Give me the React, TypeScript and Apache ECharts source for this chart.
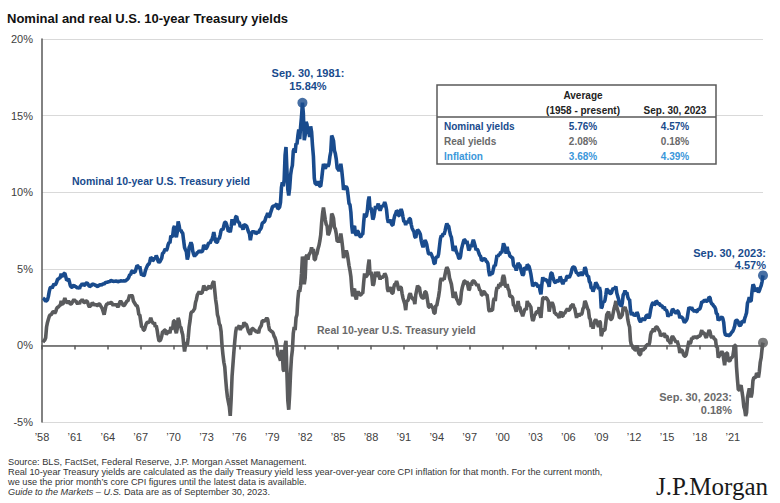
import React, { useEffect, useRef } from "react";
import * as echarts from "echarts";

// ---- data ----
const START_YEAR = 1958;
const X_MAX = 65.75; // years after Jan 1958 (Sep 30, 2023)
const Y_MIN = -5;
const Y_MAX = 20;
const Y_STEP = 5;
const X_STEP = 3;

// monthly nominal 10-year Treasury yield (%), Jan 1958 .. Sep 2023
const nominal = [
  3.09, 3.05, 2.98, 2.88, 2.92, 2.97, 3.2, 3.54, 3.76, 3.8, 3.74, 3.86,
  4.02, 3.96, 3.99, 4.12, 4.31, 4.34, 4.4, 4.43, 4.68, 4.53, 4.53, 4.69,
  4.72, 4.49, 4.25, 4.28, 4.35, 4.15, 3.9, 3.8, 3.8, 3.89, 3.93, 3.84,
  3.84, 3.78, 3.74, 3.78, 3.71, 3.88, 3.92, 4.04, 3.98, 3.92, 3.94, 4.06,
  4.08, 4.04, 3.93, 3.84, 3.87, 3.91, 4.01, 3.98, 3.98, 3.93, 3.92, 3.86,
  3.83, 3.92, 3.93, 3.97, 3.93, 3.99, 4.02, 4.0, 4.08, 4.11, 4.12, 4.13,
  4.17, 4.15, 4.22, 4.23, 4.2, 4.17, 4.19, 4.19, 4.2, 4.19, 4.15, 4.18,
  4.19, 4.21, 4.21, 4.2, 4.21, 4.21, 4.2, 4.25, 4.29, 4.35, 4.45, 4.62,
  4.61, 4.83, 4.87, 4.75, 4.78, 4.81, 5.02, 5.22, 5.18, 5.01, 5.16, 4.84,
  4.58, 4.63, 4.54, 4.59, 4.85, 5.02, 5.16, 5.28, 5.3, 5.48, 5.75, 5.7,
  5.53, 5.56, 5.74, 5.64, 5.87, 5.72, 5.5, 5.42, 5.46, 5.58, 5.7, 6.03,
  6.04, 6.19, 6.3, 6.17, 6.32, 6.57, 6.72, 6.69, 7.16, 7.1, 7.14, 7.65,
  7.79, 7.24, 7.07, 7.39, 8.1, 7.84, 7.46, 7.53, 7.39, 7.33, 6.84, 6.39,
  6.24, 6.11, 5.6, 5.83, 6.39, 6.52, 6.73, 6.58, 6.14, 5.93, 5.81, 5.93,
  5.95, 6.08, 6.07, 6.19, 6.13, 6.11, 6.11, 6.21, 6.55, 6.48, 6.28, 6.36,
  6.46, 6.64, 6.71, 6.67, 6.85, 6.9, 7.13, 7.4, 7.09, 6.79, 6.73, 6.74,
  6.99, 6.96, 7.21, 7.51, 7.58, 7.54, 7.81, 8.04, 8.04, 7.9, 7.68, 7.43,
  7.5, 7.39, 7.73, 8.23, 8.06, 7.86, 8.06, 8.4, 8.43, 8.14, 8.05, 8.0,
  7.74, 7.79, 7.73, 7.56, 7.9, 7.86, 7.83, 7.77, 7.59, 7.41, 7.29, 6.87,
  7.21, 7.39, 7.46, 7.37, 7.46, 7.28, 7.33, 7.4, 7.34, 7.52, 7.58, 7.69,
  7.96, 8.03, 8.04, 8.15, 8.35, 8.46, 8.64, 8.41, 8.42, 8.64, 8.81, 9.01,
  9.1, 9.1, 9.12, 9.18, 9.25, 8.91, 8.95, 9.03, 9.33, 10.3, 10.65, 10.39,
  10.8, 12.41, 12.95, 11.47, 10.18, 9.78, 10.25, 11.1, 11.51, 11.75, 12.68, 12.84,
  12.57, 13.19, 13.12, 13.68, 14.1, 13.47, 14.28, 14.94, 15.84, 15.15, 13.39, 13.72,
  14.59, 14.43, 13.86, 13.87, 13.62, 14.3, 13.95, 13.06, 12.34, 10.91, 10.55, 10.54,
  10.46, 10.72, 10.51, 10.4, 10.38, 10.85, 11.38, 11.85, 11.65, 11.54, 11.69, 11.83,
  11.67, 11.84, 12.32, 12.63, 13.7, 13.56, 13.36, 12.72, 12.52, 12.16, 11.57, 11.5,
  11.38, 11.51, 11.86, 11.43, 10.85, 10.16, 10.31, 10.33, 10.37, 10.24, 9.78, 9.26,
  9.19, 8.7, 7.78, 7.3, 7.71, 7.8, 7.3, 7.17, 7.45, 7.43, 7.25, 7.11,
  7.08, 7.25, 7.25, 8.02, 8.61, 8.4, 8.45, 8.76, 9.42, 9.72, 8.86, 8.99,
  8.67, 8.21, 8.37, 8.72, 9.09, 8.92, 9.06, 9.26, 8.98, 8.8, 8.96, 9.11,
  9.09, 9.17, 9.36, 9.18, 8.86, 8.28, 8.02, 8.11, 8.19, 8.01, 7.87, 7.84,
  8.21, 8.47, 8.59, 8.79, 8.76, 8.48, 8.47, 8.75, 8.89, 8.72, 8.39, 8.08,
  8.09, 7.85, 8.11, 8.04, 8.07, 8.28, 8.27, 7.9, 7.65, 7.53, 7.42, 7.09,
  7.03, 7.34, 7.54, 7.48, 7.39, 7.26, 6.84, 6.59, 6.42, 6.59, 6.87, 6.77,
  6.6, 6.26, 5.98, 5.97, 6.04, 5.96, 5.81, 5.68, 5.36, 5.33, 5.72, 5.77,
  5.75, 5.97, 6.48, 6.97, 7.18, 7.1, 7.3, 7.24, 7.46, 7.74, 7.96, 7.81,
  7.78, 7.47, 7.2, 7.06, 6.63, 6.17, 6.28, 6.49, 6.2, 6.04, 5.93, 5.71,
  5.65, 5.81, 6.27, 6.51, 6.74, 6.91, 6.87, 6.64, 6.83, 6.53, 6.2, 6.3,
  6.58, 6.42, 6.69, 6.89, 6.71, 6.49, 6.22, 6.3, 6.21, 6.03, 5.88, 5.81,
  5.54, 5.57, 5.65, 5.64, 5.65, 5.5, 5.46, 5.34, 4.81, 4.53, 4.83, 4.65,
  4.72, 5.0, 5.23, 5.18, 5.54, 5.9, 5.79, 5.94, 5.92, 6.11, 6.03, 6.28,
  6.66, 6.52, 6.26, 5.99, 6.44, 6.1, 6.05, 5.83, 5.8, 5.74, 5.72, 5.24,
  5.16, 5.1, 4.89, 5.14, 5.39, 5.28, 5.24, 4.97, 4.73, 4.57, 4.65, 5.09,
  5.04, 4.91, 5.28, 5.21, 5.16, 4.93, 4.65, 4.26, 3.87, 3.94, 4.05, 4.03,
  4.05, 3.9, 3.81, 3.96, 3.57, 3.33, 3.98, 4.45, 4.27, 4.29, 4.3, 4.27,
  4.15, 4.08, 3.83, 4.35, 4.72, 4.73, 4.5, 4.28, 4.13, 4.1, 4.19, 4.23,
  4.22, 4.17, 4.5, 4.34, 4.14, 4.0, 4.18, 4.26, 4.2, 4.46, 4.54, 4.47,
  4.42, 4.57, 4.72, 4.99, 5.11, 5.11, 5.09, 4.88, 4.72, 4.73, 4.6, 4.56,
  4.76, 4.72, 4.56, 4.69, 4.75, 5.1, 5.0, 4.67, 4.52, 4.53, 4.15, 4.1,
  3.74, 3.74, 3.51, 3.68, 3.88, 4.1, 4.01, 3.89, 3.69, 3.81, 3.53, 2.42,
  2.52, 2.87, 2.82, 2.93, 3.29, 3.72, 3.56, 3.59, 3.4, 3.39, 3.4, 3.59,
  3.73, 3.69, 3.73, 3.85, 3.42, 3.2, 3.01, 2.7, 2.65, 2.54, 2.76, 3.29,
  3.39, 3.58, 3.41, 3.46, 3.17, 3.0, 3.0, 2.3, 1.98, 2.15, 2.01, 1.98,
  1.97, 1.97, 2.17, 2.05, 1.8, 1.62, 1.53, 1.68, 1.72, 1.75, 1.65, 1.72,
  1.91, 1.98, 1.96, 1.76, 1.93, 2.3, 2.58, 2.74, 2.81, 2.62, 2.72, 2.9,
  2.86, 2.71, 2.72, 2.71, 2.56, 2.6, 2.54, 2.42, 2.53, 2.3, 2.33, 2.21,
  1.88, 1.98, 2.04, 1.94, 2.2, 2.36, 2.32, 2.17, 2.17, 2.07, 2.26, 2.24,
  2.09, 1.78, 1.89, 1.81, 1.81, 1.64, 1.5, 1.56, 1.63, 1.76, 2.14, 2.49,
  2.43, 2.42, 2.48, 2.3, 2.3, 2.19, 2.32, 2.21, 2.2, 2.36, 2.35, 2.4,
  2.58, 2.86, 2.84, 2.87, 2.98, 2.91, 2.89, 2.89, 3.0, 3.15, 3.12, 2.83,
  2.71, 2.68, 2.57, 2.53, 2.4, 2.07, 2.06, 1.63, 1.7, 1.71, 1.81, 1.86,
  1.76, 1.5, 0.87, 0.66, 0.67, 0.73, 0.62, 0.65, 0.68, 0.79, 0.87, 0.93,
  1.08, 1.26, 1.61, 1.64, 1.62, 1.52, 1.32, 1.28, 1.37, 1.58, 1.56, 1.47,
  1.76, 1.93, 2.13, 2.75, 2.9, 3.14, 2.9, 2.9, 3.52, 3.98, 3.89, 3.62,
  3.53, 3.75, 3.66, 3.46, 3.57, 3.75, 3.9, 4.17, 4.57,
];

// monthly real 10-year Treasury yield (%), Jan 1958 .. Sep 2023
const real = [
  0.2, 0.3, 0.35, 0.5, 1.2, 1.5, 1.7, 1.9, 2.0, 2.0, 2.1, 2.2,
  2.2, 2.1, 2.2, 2.4, 2.5, 2.5, 2.6, 2.6, 2.9, 2.7, 2.7, 2.9,
  3.1, 2.9, 2.8, 2.8, 2.9, 2.8, 2.7, 2.7, 2.8, 2.9, 3.0, 2.9,
  2.9, 2.8, 2.7, 2.8, 2.7, 2.9, 2.9, 3.0, 2.9, 2.8, 2.8, 2.9,
  2.9, 2.8, 2.6, 2.5, 2.6, 2.6, 2.8, 2.7, 2.7, 2.6, 2.7, 2.6,
  2.6, 2.7, 2.7, 2.6, 2.5, 2.4, 2.2, 2.0, 2.3, 2.6, 2.7, 2.7,
  2.8, 2.7, 2.8, 2.8, 2.7, 2.6, 2.7, 2.6, 2.7, 2.6, 2.5, 2.6,
  2.8, 2.9, 2.8, 2.7, 2.6, 2.6, 2.7, 2.8, 2.9, 2.9, 3.1, 3.3,
  3.2, 3.3, 3.2, 2.9, 2.8, 2.7, 2.6, 2.6, 2.4, 2.0, 2.0, 1.6,
  1.2, 1.2, 1.0, 1.0, 1.2, 1.4, 1.5, 1.5, 1.5, 1.6, 1.8, 1.6,
  1.5, 1.4, 1.5, 1.2, 1.3, 1.0, 0.6, 0.3, 0.3, 0.4, 0.6, 0.9,
  0.9, 1.0, 1.0, 0.7, 0.8, 0.9, 0.9, 0.8, 1.2, 1.1, 1.1, 1.6,
  1.6, 1.0, 0.8, 1.1, 1.8, 1.6, 1.2, 1.2, 0.9, 0.7, 0.1, -0.4,
  0.0, 0.2, 0.0, 0.5, 1.2, 1.6, 2.1, 2.2, 2.2, 2.3, 2.4, 2.8,
  3.0, 3.3, 3.4, 3.5, 3.4, 3.4, 3.4, 3.6, 3.9, 3.8, 3.6, 3.7,
  3.7, 3.8, 3.9, 3.7, 3.8, 3.9, 4.1, 4.2, 3.6, 3.0, 2.6, 2.0,
  1.8, 1.4, 1.3, 0.9, 0.0, -0.6, -1.1, -1.4, -2.2, -2.9, -3.4, -3.7,
  -4.0, -4.6, -3.5, -2.0, -1.2, -0.4, 0.3, 0.9, 1.2, 1.1, 1.2, 1.3,
  1.0, 1.2, 1.2, 1.2, 1.5, 1.4, 1.4, 1.3, 1.1, 0.9, 0.8, 0.7,
  1.0, 1.1, 1.1, 1.0, 1.0, 0.9, 0.9, 0.9, 0.8, 1.1, 1.2, 1.3,
  1.6, 1.6, 1.6, 1.6, 1.7, 1.8, 1.7, 1.3, 1.0, 1.0, 0.9, 0.9,
  0.8, 0.6, 0.5, 0.3, 0.0, -0.6, -0.7, -0.8, -1.0, -0.3, -0.6, -1.6,
  -1.7, 0.0, 0.3, -1.8, -3.6, -4.2, -3.2, -1.8, -0.8, -0.3, 0.8, 1.2,
  1.0, 1.8, 2.0, 3.0, 3.6, 3.5, 3.9, 4.7, 5.8, 5.4, 4.0, 4.4,
  5.8, 5.9, 5.6, 5.9, 6.0, 6.1, 6.4, 6.1, 6.3, 5.6, 5.6, 5.9,
  6.0, 6.3, 6.5, 6.8, 7.2, 8.0, 8.6, 9.0, 8.6, 8.2, 7.9, 7.8,
  7.2, 7.3, 7.5, 7.8, 8.6, 8.5, 8.3, 7.7, 7.6, 7.3, 6.8, 6.8,
  6.8, 6.8, 7.3, 6.9, 6.4, 5.7, 5.9, 6.0, 6.2, 6.0, 5.6, 5.2,
  4.9, 4.5, 3.7, 3.2, 3.6, 3.7, 3.2, 3.0, 3.4, 3.5, 3.4, 3.3,
  3.3, 3.4, 3.4, 4.1, 4.7, 4.5, 4.5, 4.6, 5.2, 5.6, 4.6, 4.8,
  4.5, 3.9, 4.0, 4.4, 4.8, 4.5, 4.6, 4.8, 4.5, 4.3, 4.5, 4.4,
  4.5, 4.5, 4.7, 4.6, 4.4, 3.7, 3.5, 3.7, 3.8, 3.6, 3.4, 3.4,
  3.8, 4.0, 4.0, 4.2, 4.0, 3.7, 3.6, 3.8, 3.8, 3.4, 3.1, 2.9,
  2.7, 2.3, 2.9, 2.9, 3.0, 3.3, 3.4, 3.2, 3.1, 3.0, 3.0, 2.7,
  3.3, 3.6, 3.9, 3.8, 3.8, 3.4, 3.2, 3.1, 3.1, 3.1, 3.5, 3.5,
  3.3, 2.9, 2.5, 2.5, 2.7, 2.6, 2.5, 2.4, 2.1, 2.1, 2.6, 2.6,
  2.9, 3.2, 3.6, 4.2, 4.4, 4.2, 4.4, 4.3, 4.6, 4.9, 5.1, 5.0,
  4.8, 4.4, 4.2, 4.0, 3.6, 3.1, 3.3, 3.5, 3.2, 3.0, 2.9, 2.7,
  2.7, 2.9, 3.5, 3.8, 4.0, 4.2, 4.2, 4.0, 4.2, 3.9, 3.6, 3.7,
  4.1, 3.9, 4.2, 4.2, 4.2, 4.1, 4.0, 3.9, 4.0, 3.8, 3.6, 3.6,
  3.3, 3.3, 3.5, 3.5, 3.4, 3.3, 3.3, 2.9, 2.3, 2.2, 2.4, 2.3,
  2.3, 2.9, 3.1, 2.9, 3.5, 3.8, 3.7, 4.0, 3.8, 4.1, 3.9, 4.4,
  4.6, 4.4, 3.9, 3.8, 4.0, 3.7, 3.6, 3.2, 3.2, 3.2, 3.1, 2.6,
  2.6, 2.4, 2.2, 2.5, 2.9, 2.5, 2.5, 2.2, 2.1, 1.9, 2.1, 2.3,
  2.4, 2.3, 2.9, 2.7, 2.7, 2.6, 2.5, 1.9, 1.6, 1.7, 2.0, 2.0,
  2.2, 2.2, 2.1, 2.5, 2.0, 1.8, 2.5, 3.1, 3.1, 3.0, 3.1, 3.1,
  3.0, 2.9, 2.2, 2.5, 2.7, 2.8, 2.7, 2.5, 2.1, 2.1, 2.0, 2.0,
  1.9, 1.8, 2.1, 2.2, 1.9, 1.9, 2.1, 2.1, 2.2, 2.3, 2.4, 2.3,
  2.3, 2.4, 2.6, 2.6, 2.7, 2.5, 2.4, 2.1, 1.8, 2.0, 2.0, 1.9,
  2.1, 2.0, 2.1, 2.4, 2.5, 2.9, 2.8, 2.6, 2.4, 2.3, 1.8, 1.7,
  1.2, 1.4, 1.1, 1.4, 1.6, 1.7, 1.5, 1.4, 1.2, 1.6, 1.5, 0.6,
  0.8, 1.1, 1.0, 1.0, 1.5, 2.0, 2.1, 2.2, 1.9, 1.7, 1.7, 1.8,
  2.1, 2.4, 2.6, 2.9, 2.5, 2.3, 2.1, 1.8, 1.8, 1.9, 2.0, 2.5,
  2.4, 2.5, 2.3, 2.2, 1.7, 1.4, 1.2, 0.3, 0.0, 0.0, -0.2, -0.2,
  -0.3, -0.3, 0.0, -0.2, -0.5, -0.6, -0.6, -0.2, -0.3, -0.3, -0.2, -0.2,
  0.0, 0.0, 0.1, 0.0, 0.2, 0.7, 0.9, 0.9, 1.1, 0.9, 1.1, 1.2,
  1.2, 1.1, 1.0, 0.9, 0.6, 0.7, 0.7, 0.7, 0.8, 0.5, 0.6, 0.6,
  0.3, 0.3, 0.2, 0.1, 0.5, 0.6, 0.5, 0.4, 0.3, 0.2, 0.3, 0.1,
  -0.1, -0.5, -0.3, -0.3, -0.4, -0.6, -0.7, -0.7, -0.6, -0.3, 0.0, 0.3,
  0.1, 0.2, 0.5, 0.4, 0.6, 0.5, 0.6, 0.5, 0.5, 0.6, 0.6, 0.6,
  0.8, 1.0, 0.7, 0.8, 0.8, 0.6, 0.5, 0.7, 0.8, 1.0, 0.9, 0.6,
  0.5, 0.6, 0.5, 0.4, 0.4, -0.1, -0.1, -0.8, -0.7, -0.6, -0.5, -0.4,
  -0.5, -0.9, -1.3, -0.8, -0.5, -0.5, -1.0, -1.0, -1.0, -0.8, -0.8, -0.7,
  -0.3, 0.0, 0.0, -1.4, -2.2, -2.9, -2.9, -2.7, -2.6, -3.0, -3.4, -4.0,
  -4.2, -4.6, -4.4, -3.4, -3.1, -2.8, -3.0, -3.4, -3.1, -2.3, -2.1, -2.1,
  -2.1, -1.8, -1.9, -2.1, -1.7, -1.1, -0.8, -0.2, 0.18,
];

const tableRowLabels = ["Nominal yields", "Real yields", "Inflation"];
const tableAverage = ["5.76%", "2.08%", "3.68%"];
const tableLatest = ["4.57%", "0.18%", "4.39%"];

const TITLE = "Nominal and real U.S. 10-year Treasury yields";
const NOMINAL_LABEL = "Nominal 10-year U.S. Treasury yield";
const REAL_LABEL = "Real 10-year U.S. Treasury yield";
const FOOTNOTES = [
  "Source: BLS, FactSet, Federal Reserve, J.P. Morgan Asset Management.",
  "Real 10-year Treasury yields are calculated as the daily Treasury yield less year-over-year core CPI inflation for that month. For the current month,",
  "we use the prior month\u2019s core CPI figures until the latest data is available.",
];

// ---- styles ----
const FONT = "'Liberation Sans', Arial, Helvetica, sans-serif";
const NAVY = "#194b8d";
const GRAY = "#5a5b5d";
const GRAY_TEXT = "#6a6a6a";
const LIGHT_BLUE = "#3b97da";
const AXIS = "#595959";

const xOf = (i: number) => (i + 1) / 12;

function text(x: number, y: number, t: string, style: any = {}) {
  return {
    type: "text",
    x,
    y,
    silent: true,
    z: 100,
    style: {
      text: t,
      fontFamily: FONT,
      fontSize: 11,
      fill: "#333",
      align: "left",
      verticalAlign: "middle",
      ...style,
    },
  };
}

export default function App() {
  const ref = useRef<HTMLDivElement>(null);

  useEffect(() => {
    document.body.style.margin = "0";
    const chart = echarts.init(ref.current!, undefined, { renderer: "svg" });

    const nominalData = nominal.map((v, i) => [xOf(i), v]);
    const realData = real.map((v, i) => [xOf(i), v]);
    const peakIdx = nominal.indexOf(Math.max(...nominal));
    const lastN = nominal.length - 1;
    const lastR = real.length - 1;

    const rowColors = [NAVY, GRAY_TEXT, LIGHT_BLUE];
    const graphic: any[] = [
      text(7, 18, TITLE, { fontSize: 13, fontWeight: "bold", fill: "#111" }),
      text(72, 181, NOMINAL_LABEL, { fontSize: 10.5, fontWeight: "bold", fill: NAVY }),
      text(317, 330, REAL_LABEL, { fontSize: 10.5, fontWeight: "bold", fill: GRAY_TEXT }),
      text(308, 73, "Sep. 30, 1981:", { fontWeight: "bold", fill: NAVY, align: "center" }),
      text(308, 86, "15.84%", { fontWeight: "bold", fill: NAVY, align: "center" }),
      text(766, 253, "Sep. 30, 2023:", { fontWeight: "bold", fill: NAVY, align: "right" }),
      text(766, 265, "4.57%", { fontWeight: "bold", fill: NAVY, align: "right" }),
      text(732, 397, "Sep. 30, 2023:", { fontWeight: "bold", fill: GRAY_TEXT, align: "right" }),
      text(732, 410, "0.18%", { fontWeight: "bold", fill: GRAY_TEXT, align: "right" }),
      // table
      {
        type: "rect",
        silent: true,
        z: 90,
        shape: { x: 437, y: 85, width: 279, height: 79 },
        style: { fill: "#fff", stroke: AXIS, lineWidth: 1.5 },
      },
      {
        type: "line",
        silent: true,
        z: 91,
        shape: { x1: 437, y1: 117, x2: 716, y2: 117 },
        style: { stroke: AXIS, lineWidth: 1.5 },
      },
      text(583, 95, "Average", { fontSize: 10, fontWeight: "bold", fill: "#222", align: "center" }),
      text(583, 110, "(1958 - present)", { fontSize: 10, fontWeight: "bold", fill: "#222", align: "center" }),
      text(675, 110, "Sep. 30, 2023", { fontSize: 10, fontWeight: "bold", fill: "#222", align: "center" }),
      ...tableRowLabels.flatMap((lab, r) => [
        text(444, 126 + r * 15, lab, { fontSize: 10, fontWeight: "bold", fill: rowColors[r] }),
        text(583, 126 + r * 15, tableAverage[r], { fontSize: 10, fontWeight: "bold", fill: rowColors[r], align: "center" }),
        text(675, 126 + r * 15, tableLatest[r], { fontSize: 10, fontWeight: "bold", fill: rowColors[r], align: "center" }),
      ]),
      // footnotes
      ...FOOTNOTES.map((f, i) => text(8, 462 + i * 10, f, { fontSize: 9.2, fill: "#333" })),
      text(8, 492, "{i|Guide to the Markets \u2013 U.S.} Data are as of September 30, 2023.", {
        fontSize: 9.2,
        fill: "#333",
        rich: { i: { fontStyle: "italic", fontSize: 9.2, fontFamily: FONT, fill: "#333" } },
      }),
      text(768, 486, "J.P.Morgan", {
        fontFamily: "'Liberation Serif', 'DejaVu Serif', serif",
        fontSize: 25,
        fill: "#1a1a1a",
        align: "right",
      }),
    ];

    const option: any = {
      animation: false,
      grid: { left: 42, right: 17, top: 39, bottom: 81, containLabel: false },
      xAxis: [
        {
          type: "value",
          min: 0,
          max: X_MAX,
          interval: X_STEP,
          position: "bottom",
          axisLine: { show: false, onZero: false },
          axisTick: { show: false },
          splitLine: { show: false },
          axisLabel: {
            margin: 9,
            color: "#404040",
            fontSize: 11,
            fontFamily: FONT,
            formatter: (v: number) =>
              v % X_STEP === 0 ? "\u2019" + String(START_YEAR + v).slice(2) : "",
          },
        },
        {
          type: "value",
          min: 0,
          max: X_MAX,
          interval: X_STEP,
          position: "bottom",
          axisLine: { show: true, onZero: true, lineStyle: { color: AXIS, width: 1.5 } },
          axisTick: { show: true, length: 4, lineStyle: { color: AXIS, width: 1.5 } },
          axisLabel: { show: false },
          splitLine: { show: false },
        },
      ],
      yAxis: {
        type: "value",
        min: Y_MIN,
        max: Y_MAX,
        interval: Y_STEP,
        axisLine: { show: true, onZero: false, lineStyle: { color: AXIS, width: 1.5 } },
        axisTick: { show: false },
        axisLabel: {
          margin: 9,
          color: "#404040",
          fontSize: 11,
          fontFamily: FONT,
          formatter: "{value}%",
        },
        splitLine: { lineStyle: { color: "#d9d9d9", width: 1 } },
      },
      series: [
        {
          type: "line",
          name: "Real",
          data: realData,
          symbol: "none",
          showSymbol: false,
          silent: true,
          lineStyle: { color: GRAY, width: 3.6 },
          z: 2,
        },
        {
          type: "line",
          name: "Nominal",
          data: nominalData,
          symbol: "none",
          showSymbol: false,
          silent: true,
          lineStyle: { color: NAVY, width: 3.6 },
          z: 3,
        },
        {
          type: "scatter",
          silent: true,
          symbolSize: 10,
          z: 4,
          data: [
            { value: [xOf(peakIdx), nominal[peakIdx]], itemStyle: { color: NAVY } },
            { value: [xOf(lastN), nominal[lastN]], itemStyle: { color: NAVY } },
            { value: [xOf(lastR), real[lastR]], itemStyle: { color: GRAY } },
          ],
        },
      ],
      graphic,
    };

    chart.setOption(option);
    return () => chart.dispose();
  }, []);

  return (
    <div
      ref={ref}
      style={{ position: "absolute", left: 0, top: 0, width: 780, height: 503, background: "#fff" }}
    />
  );
}
